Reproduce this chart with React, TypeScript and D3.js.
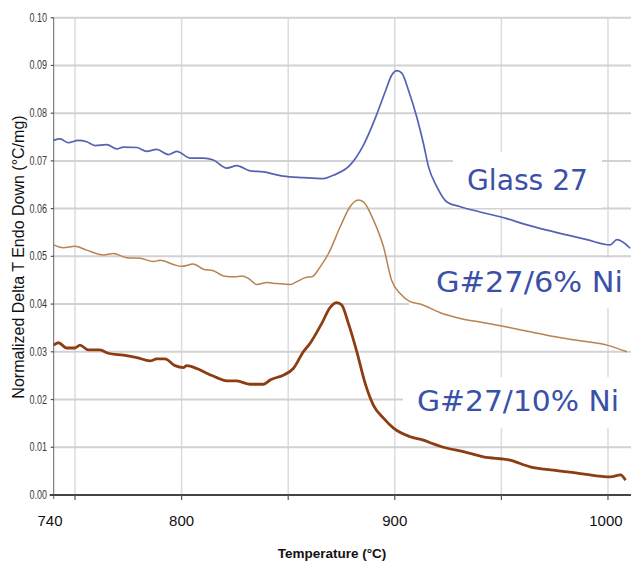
import React from "react";
import * as d3 from "d3";

// ---- Data ----
const glassT = [740, 743, 746.9, 751.5, 755.5, 759.4, 764.9, 769.6, 772.7, 779, 783.6, 788.3, 793.8, 797.7, 804, 810.2, 814.9, 821.2, 825.9, 832.1, 838.4, 847.7, 857.1, 866.5, 871.2, 879, 885.3, 890.8, 895.5, 898.6, 901, 903.3, 906.4, 910.3, 913.4, 915.8, 919.7, 924.4, 930.7, 940, 952.6, 960.4, 971.3, 980.7, 990.1, 1001, 1004.2, 1010.4];
const glassV = [0.0743, 0.0746, 0.0738, 0.0743, 0.074, 0.0732, 0.0734, 0.0725, 0.0729, 0.0728, 0.072, 0.0724, 0.0713, 0.072, 0.0706, 0.0706, 0.0702, 0.0685, 0.069, 0.0679, 0.0677, 0.0668, 0.0665, 0.0663, 0.067, 0.0691, 0.0733, 0.0789, 0.0845, 0.088, 0.0889, 0.0884, 0.0848, 0.0792, 0.0737, 0.0688, 0.0646, 0.0614, 0.0604, 0.0593, 0.0579, 0.0568, 0.0555, 0.0545, 0.0535, 0.0524, 0.0535, 0.0517];

const ni6T = [740, 744.5, 750, 755.5, 763.3, 768, 774.3, 780.5, 786.7, 789.9, 796.1, 800, 805.5, 810.2, 814.9, 819.6, 825.1, 828.2, 831.3, 835.3, 840, 844.6, 851, 854, 858.7, 861.1, 865, 868.9, 874.4, 879, 882.9, 885.3, 890, 894.7, 898.5, 902.5, 907.2, 911.9, 921.3, 930.7, 943.2, 952.6, 963.5, 974.5, 987, 999.5, 1008.9];
const ni6V = [0.0524, 0.0518, 0.0521, 0.0513, 0.0503, 0.0506, 0.0497, 0.0496, 0.0489, 0.0492, 0.0483, 0.0479, 0.0484, 0.0473, 0.047, 0.0459, 0.0457, 0.0459, 0.0454, 0.0441, 0.0445, 0.0443, 0.0441, 0.0447, 0.0456, 0.0457, 0.0478, 0.0506, 0.0562, 0.0604, 0.0618, 0.0614, 0.0576, 0.052, 0.045, 0.0422, 0.0405, 0.04, 0.0382, 0.037, 0.036, 0.0352, 0.0342, 0.0332, 0.0323, 0.0314, 0.03];

const ni10T = [740, 742.2, 746.1, 750, 752.3, 756.2, 761.7, 765.6, 772.7, 779, 785.2, 788.3, 792.2, 796.9, 800.8, 802.4, 807.1, 811.8, 816.5, 821.2, 825.9, 832.1, 838.4, 841.5, 847.7, 852.4, 857.1, 860.3, 865.8, 869.7, 872.8, 875.1, 878.2, 882.2, 886.1, 890, 894.7, 899.4, 907.2, 913.4, 918.1, 922.8, 932.2, 941.6, 954.1, 963.5, 974.4, 987.1, 1001.2, 1005.9, 1008.2];
const ni10V = [0.0314, 0.0319, 0.0308, 0.0308, 0.0314, 0.0304, 0.0304, 0.0297, 0.0293, 0.0288, 0.0281, 0.0285, 0.0285, 0.0271, 0.0267, 0.0271, 0.0265, 0.0255, 0.0246, 0.0239, 0.0239, 0.0232, 0.0232, 0.0241, 0.0251, 0.0265, 0.03, 0.0318, 0.036, 0.0393, 0.0403, 0.0398, 0.036, 0.03, 0.0234, 0.0188, 0.0161, 0.014, 0.0122, 0.0115, 0.0107, 0.01, 0.0091, 0.008, 0.0073, 0.0059, 0.0052, 0.0045, 0.0038, 0.0042, 0.0031];

const yTicks = [0, 0.01, 0.02, 0.03, 0.04, 0.05, 0.06, 0.07, 0.08, 0.09, 0.1];
const xGridTicks = [750, 800, 850, 900, 950, 1000];
const xLabelTicks = [740, 800, 900, 1000];
const legendLabels = ["Glass 27", "G#27/6% Ni", "G#27/10% Ni"];

const W = 631;
const H = 565;

export default function App() {
  const x = d3.scaleLinear().domain([740, 1010.8]).range([53.7, 631]);
  const y = d3.scaleLinear().domain([0, 0.1]).range([495, 17.7]);

  const line = d3
    .line<[number, number]>()
    .x((d) => x(d[0]))
    .y((d) => y(d[1]))
    .curve(d3.curveMonotoneX);

  const zip = (t: number[], v: number[]) => t.map((tt, i) => [tt, v[i]] as [number, number]);

  const series = [
    { d: zip(glassT, glassV), color: "#5462b6", w: 1.7 },
    { d: zip(ni6T, ni6V), color: "#b7834f", w: 1.5 },
    { d: zip(ni10T, ni10V), color: "#8c3d12", w: 2.8 },
  ];

  // white label boxes (hide gridlines), in pixel space
  const boxes = [
    { x0: 453, x1: 602, y0: 152, y1: 208 },
    { x0: 409, x1: 631, y0: 258, y1: 308 },
    { x0: 403, x1: 631, y0: 377, y1: 428 },
  ];
  const labels = [
    { text: legendLabels[0], x: 467, y: 190, len: 121 },
    { text: legendLabels[1], x: 436, y: 292, len: 187 },
    { text: legendLabels[2], x: 417, y: 411, len: 202 },
  ];

  const x0 = x.range()[0];
  const x1 = x.range()[1];
  const yTop = y(0.1);
  const yBot = y(0);

  return (
    <svg
      width={W}
      height={H}
      style={{ position: "absolute", left: 0, top: 0, background: "#fff" }}
      fontFamily="Liberation Sans, Arial, sans-serif"
    >
      <rect x={0} y={0} width={W} height={H} fill="#fff" />
      {/* vertical gridlines */}
      {xGridTicks.map((t) => (
        <line key={"vg" + t} x1={x(t)} x2={x(t)} y1={yTop} y2={yBot} stroke="#dcdcdc" strokeWidth={1.5} />
      ))}
      {/* horizontal gridlines */}
      {yTicks.slice(1).map((v) => (
        <line key={"hg" + v} x1={x0} x2={x1} y1={y(v)} y2={y(v)} stroke="#d2d2d2" strokeWidth={2} />
      ))}
      {/* label boxes */}
      {boxes.map((b, i) => (
        <rect key={"b" + i} x={b.x0} y={b.y0} width={b.x1 - b.x0} height={b.y1 - b.y0} fill="#fff" />
      ))}
      {/* y axis */}
      <line x1={x0} x2={x0} y1={yTop} y2={yBot + 4} stroke="#666" strokeWidth={1} />
      {yTicks.map((v) => (
        <g key={"yt" + v}>
          <line x1={x0 - 3} x2={x0} y1={y(v)} y2={y(v)} stroke="#555" strokeWidth={1.2} />
          <text
            x={47}
            y={y(v) + 4}
            textAnchor="end"
            fontSize={12.5}
            fill="#3a3a3a"
            textLength={17.5}
            lengthAdjust="spacingAndGlyphs"
          >
            {v.toFixed(2)}
          </text>
        </g>
      ))}
      {/* x axis */}
      <line x1={x0 - 4} x2={x1} y1={yBot} y2={yBot} stroke="#444" strokeWidth={2} />
      {xGridTicks.map((t) => (
        <line key={"xt" + t} x1={x(t)} x2={x(t)} y1={yBot} y2={yBot + 5} stroke="#555" strokeWidth={1.2} />
      ))}
      {xLabelTicks.map((t) => (
        <text
          key={"xl" + t}
          x={t === 740 ? 50 : x(t) - (t === 1000 ? 2 : 0)}
          y={526}
          textAnchor="middle"
          fontSize={15}
          fill="#111"
        >
          {t}
        </text>
      ))}
      {/* series */}
      {series.map((s, i) => (
        <path key={"s" + i} d={line(s.d) || ""} fill="none" stroke={s.color} strokeWidth={s.w} strokeLinejoin="round" />
      ))}
      {/* legend labels */}
      {labels.map((l, i) => (
        <text
          key={"l" + i}
          x={l.x}
          y={l.y}
          fontSize={29}
          fill="#3b50a8"
          fontFamily="DejaVu Sans, sans-serif"
          textLength={l.len}
          lengthAdjust="spacingAndGlyphs"
        >
          {l.text}
        </text>
      ))}
      {/* axis titles */}
      <text x={332} y={558} textAnchor="middle" fontSize={13.5} fontWeight="bold" fill="#111">
        Temperature (°C)
      </text>
      <text
        transform={`translate(23.5,257) rotate(-90)`}
        textAnchor="middle"
        fontSize={16}
        fill="#111"
      >
        Normalized Delta T Endo Down (°C/mg)
      </text>
    </svg>
  );
}
